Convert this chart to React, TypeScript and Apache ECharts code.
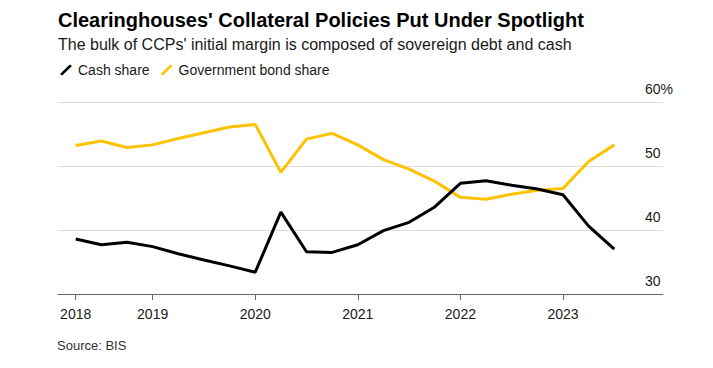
import React, { useEffect, useRef } from "react";
import * as echarts from "echarts";

const quarters = [
  "2018Q1", "2018Q2", "2018Q3", "2018Q4",
  "2019Q1", "2019Q2", "2019Q3", "2019Q4",
  "2020Q1", "2020Q2", "2020Q3", "2020Q4",
  "2021Q1", "2021Q2", "2021Q3", "2021Q4",
  "2022Q1", "2022Q2", "2022Q3", "2022Q4",
  "2023Q1", "2023Q2",
];
const cashShare = [
  38.6, 37.7, 38.1, 37.4, 36.3, 35.3, 34.4, 33.4,
  42.8, 36.6, 36.5, 37.7, 39.9, 41.2, 43.6, 47.3,
  47.7, 47.0, 46.4, 45.5, 40.6, 37.0,
];
const govBondShare = [
  53.2, 53.9, 52.9, 53.3, 54.3, 55.2, 56.1, 56.5,
  49.0, 54.2, 55.1, 53.3, 51.0, 49.5, 47.6, 45.1,
  44.8, 45.6, 46.2, 46.5, 50.7, 53.3,
];
const yearTickIndex = [0, 3, 7, 11, 15, 19];
const yearTickLabels = ["2018", "2019", "2020", "2021", "2022", "2023"];
const yTicks = [30, 40, 50, 60];

const BLACK = "#000000";
const YELLOW = "#FDC300";
const FONT = "'Liberation Sans', Arial, sans-serif";

export default function App() {
  const ref = useRef<HTMLDivElement>(null);
  useEffect(() => {
    if (!ref.current) return;
    const chart = echarts.init(ref.current, undefined, { renderer: "svg" });
    const labelFor = (v: number) => {
      const i = yearTickIndex.indexOf(Math.round(v));
      return i >= 0 ? yearTickLabels[i] : "";
    };
    chart.setOption({
      animation: false,
      backgroundColor: "#ffffff",
      textStyle: { fontFamily: FONT },
      title: [
        {
          text: "Clearinghouses' Collateral Policies Put Under Spotlight",
          left: 58,
          top: 10,
          padding: 0,
          textStyle: { fontSize: 20, fontWeight: "bold", color: "#000", fontFamily: FONT },
        },
        {
          text: "The bulk of CCPs' initial margin is composed of sovereign debt and cash",
          left: 58,
          top: 36,
          padding: 0,
          textStyle: { fontSize: 16, fontWeight: "normal", color: "#1a1a1a", fontFamily: FONT },
        },
        {
          text: "Source: BIS",
          left: 57,
          top: 339,
          padding: 0,
          textStyle: { fontSize: 13, fontWeight: "normal", color: "#333", fontFamily: FONT },
        },
      ],
      legend: {
        left: 60,
        top: 63,
        padding: 0,
        itemWidth: 12,
        itemHeight: 11,
        itemGap: 11,
        data: [
          { name: "Cash share", icon: "path://M0,9.5 L9.8,0 L12,1.6 L2.2,11 Z" },
          { name: "Government bond share", icon: "path://M0,9.5 L9.8,0 L12,1.6 L2.2,11 Z" },
        ],
        textStyle: { fontSize: 14, color: "#1a1a1a", fontFamily: FONT, padding: [0, 0, 0, 1] },
      },
      grid: { left: 58, right: 50, top: 102, bottom: 74, containLabel: false },
      xAxis: {
        type: "value",
        min: -0.69,
        max: 22.9,
        splitLine: { show: false },
        axisLine: { show: true, lineStyle: { color: "#666", width: 1 } },
        axisTick: {
          show: true,
          length: 6,
          lineStyle: { color: "#666", width: 1 },
          customValues: yearTickIndex,
        },
        axisLabel: {
          customValues: yearTickIndex,
          formatter: (v: number) => labelFor(v),
          fontSize: 14,
          color: "#1a1a1a",
          margin: 13,
          fontFamily: FONT,
        },
      },
      yAxis: {
        type: "value",
        position: "right",
        min: 30,
        max: 60,
        interval: 10,
        axisLine: { show: false },
        axisTick: { show: false },
        splitLine: { show: true, lineStyle: { color: "#dedede", width: 1 } },
        axisLabel: {
          inside: true,
          align: "left",
          margin: 18,
          verticalAlign: "bottom",
          lineHeight: 26,
          fontSize: 14,
          color: "#1a1a1a",
          fontFamily: FONT,
          formatter: (v: number) => (v === yTicks[yTicks.length - 1] ? v + "%" : String(v)),
        },
      },
      series: [
        {
          name: "Government bond share",
          type: "line",
          data: govBondShare.map((v, i) => [i, v]),
          symbol: "none",
          lineStyle: { color: YELLOW, width: 3 },
          itemStyle: { color: YELLOW },
        },
        {
          name: "Cash share",
          type: "line",
          data: cashShare.map((v, i) => [i, v]),
          symbol: "none",
          lineStyle: { color: BLACK, width: 3 },
          itemStyle: { color: BLACK },
        },
      ],
    });
    return () => chart.dispose();
  }, []);
  return <div ref={ref} style={{ width: 713, height: 368, position: "absolute", left: 0, top: 0 }} data-q={quarters.length} />;
}
